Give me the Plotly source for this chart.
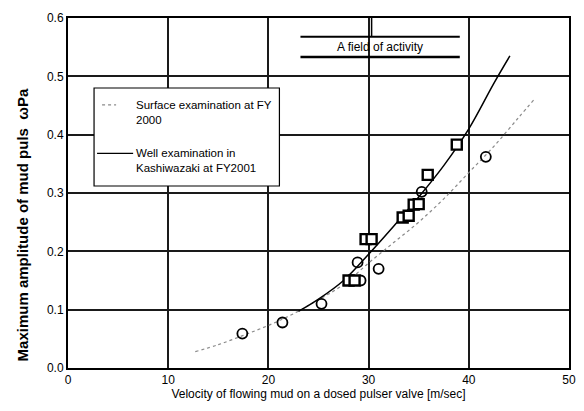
import plotly.graph_objects as go

# Measured pulse amplitudes
circle_x = [17.4, 21.4, 25.3, 28.9, 29.2, 31.0, 35.3, 41.7]
circle_y = [0.059, 0.078, 0.110, 0.181, 0.150, 0.170, 0.302, 0.362]

square_x = [28.0, 28.6, 29.7, 30.3, 33.4, 34.0, 34.5, 35.0, 35.9, 38.8]
square_y = [0.150, 0.150, 0.221, 0.221, 0.258, 0.261, 0.280, 0.281, 0.331, 0.383]

# Trend curves
surface_x = [12.7, 15.0, 17.5, 20.0, 22.5, 25.0, 27.5, 30.0, 32.5, 35.0, 37.5, 40.0, 42.5, 45.0, 46.6]
surface_y = [0.028, 0.040, 0.056, 0.073, 0.093, 0.117, 0.143, 0.180, 0.215, 0.250, 0.290, 0.335, 0.380, 0.430, 0.462]

well_x = [23.0, 25.0, 27.5, 30.0, 32.5, 35.0, 37.5, 40.0, 42.5, 44.1]
well_y = [0.097, 0.118, 0.150, 0.195, 0.243, 0.293, 0.347, 0.410, 0.488, 0.535]

x_ticks = [0, 10, 20, 30, 40, 50]
y_ticks = [0.0, 0.1, 0.2, 0.3, 0.4, 0.5, 0.6]

legend_labels = ["Surface examination at FY<br>2000", "Well examination in<br>Kashiwazaki at FY2001"]
field_label = "A field of activity"
field_range = [23.2, 39.1]

FONT = "Liberation Sans, Arial, sans-serif"

fig = go.Figure()

fig.add_trace(go.Scatter(
    x=surface_x, y=surface_y, mode="lines", line_shape="spline",
    line=dict(color="#8a8a8a", width=1.2, dash="dot"), showlegend=False))
fig.add_trace(go.Scatter(
    x=well_x, y=well_y, mode="lines", line_shape="spline",
    line=dict(color="black", width=1.5), showlegend=False))
fig.add_trace(go.Scatter(
    x=circle_x, y=circle_y, mode="markers",
    marker=dict(symbol="circle-open", size=10, color="black", line=dict(width=1.8)),
    showlegend=False))
fig.add_trace(go.Scatter(
    x=square_x, y=square_y, mode="markers",
    marker=dict(symbol="square", size=10, color="white", line=dict(width=2.4, color="black")),
    showlegend=False))

# Activity range bar
fig.add_shape(type="line", x0=field_range[0], x1=field_range[1], y0=0.568, y1=0.568,
              line=dict(color="black", width=2))
fig.add_shape(type="line", x0=field_range[0], x1=field_range[1], y0=0.533, y1=0.533,
              line=dict(color="black", width=2.5))
fig.add_shape(type="line", x0=30.3, x1=30.3, y0=0.568, y1=0.6,
              line=dict(color="black", width=1.5))
fig.add_annotation(x=sum(field_range) / 2, y=0.551, text=field_label, showarrow=False,
                   font=dict(family=FONT, size=12, color="black"))

# Legend box
fig.add_shape(type="rect", x0=2.6, x1=21.1, y0=0.312, y1=0.480,
              line=dict(color="black", width=1.2), fillcolor="white", layer="above")
fig.add_shape(type="line", x0=3.4, x1=4.8, y0=0.451, y1=0.451,
              line=dict(color="#8a8a8a", width=1.2, dash="dot"), layer="above")
fig.add_shape(type="line", x0=2.9, x1=6.5, y0=0.368, y1=0.368,
              line=dict(color="black", width=1.2), layer="above")
fig.add_annotation(x=6.6, y=0.451, text=legend_labels[0], showarrow=False,
                   xanchor="left", yanchor="top", yshift=8, align="left",
                   font=dict(family=FONT, size=11.5, color="black"))
fig.add_annotation(x=6.6, y=0.368, text=legend_labels[1], showarrow=False,
                   xanchor="left", yanchor="top", yshift=8, align="left",
                   font=dict(family=FONT, size=11.5, color="black"))

# Vertical axis title
fig.add_annotation(xref="paper", yref="paper", x=-0.09, y=0.41,
                   text="<b>Maximum amplitude of mud puls  ωPa</b>", textangle=-90,
                   showarrow=False, xanchor="center", yanchor="middle",
                   font=dict(family=FONT, size=15, color="black"))

fig.update_xaxes(
    range=[0, 50], tickvals=x_ticks, ticks="", showgrid=True, gridcolor="#1a1a1a", gridwidth=1.8,
    showline=True, linecolor="black", linewidth=2, mirror=True, zeroline=False,
    title=dict(text="Velocity of flowing mud on a dosed pulser valve [m/sec]",
               font=dict(family=FONT, size=12, color="black"), standoff=2),
    tickfont=dict(family=FONT, size=12, color="black"))
fig.update_yaxes(
    range=[0, 0.6], tickvals=y_ticks, tickformat=".1f", ticks="", showgrid=True,
    gridcolor="#1a1a1a", gridwidth=1.8,
    showline=True, linecolor="black", linewidth=2, mirror=True, zeroline=False,
    tickfont=dict(family=FONT, size=12, color="black"))

fig.update_layout(
    width=584, height=411, margin=dict(l=68, r=8, t=18, b=43),
    paper_bgcolor="white", plot_bgcolor="white", showlegend=False)

fig.write_html("out.html")
